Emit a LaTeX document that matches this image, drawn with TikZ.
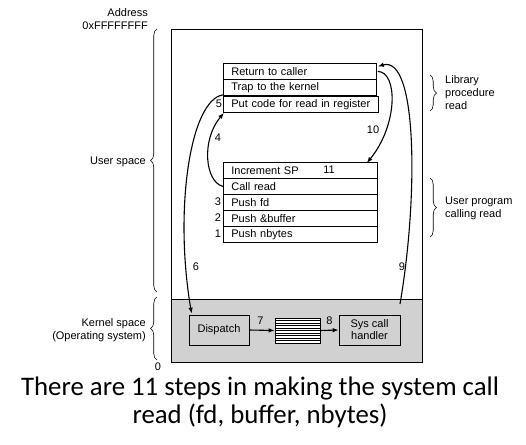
\documentclass[tikz,border=0pt]{standalone}
\usepackage{fontspec}
\setmainfont{Liberation Sans}
\newfontfamily\capfont{Carlito}
\usetikzlibrary{arrows.meta,decorations.pathreplacing}
\begin{document}
\begin{tikzpicture}[x=1pt,y=-1pt,
  every node/.style={font=\fontsize{11}{13}\selectfont},
  rowbox/.style={draw, line width=0.8pt, anchor=north west, minimum height=16pt, inner xsep=8pt, inner ysep=0pt, text width=137pt, align=left},
  kbox/.style={draw, line width=0.8pt, minimum width=60pt, minimum height=30pt, inner sep=0pt, align=center},
  num/.style={inner sep=0pt},
  conn/.style={line width=1.1pt, -{Latex[length=6pt,width=4.5pt]}},
  curly/.style={decorate, decoration={brace, amplitude=6.5pt}, line width=0.6pt},
  side/.style={inner sep=0pt, align=left, anchor=west},
  lside/.style={inner sep=0pt, align=right, anchor=east}
]
\useasboundingbox (0,0) rectangle (526,444);
% kernel area and frame
\fill[black!18] (171,299) rectangle (422,362);
\draw[line width=0.9pt] (171,29) rectangle (422,362);
\draw[line width=0.9pt] (171,299) -- (422,299);

% library procedure rows
\node[rowbox] (ret) at (223,63) {Return to caller};
\node[rowbox] (trap) at (223,79) {Trap to the kernel};
\node[rowbox, text width=139pt] (put) at (223,96) {Put code for read in register};

% user program rows
\node[rowbox, text width=138pt] (incr) at (223,162) {Increment SP};
\node[rowbox, text width=138pt] (call) at (223,178) {Call read};
\node[rowbox, text width=138pt] (pfd) at (223,194) {Push fd};
\node[rowbox, text width=138pt] (pbuf) at (223,210) {Push \&buffer};
\node[rowbox, text width=138pt] (pnb) at (223,226) {Push nbytes};

% step numbers beside rows
\node[num] (n11) at (329,170) {11};
\node[num] (n3) at (218,202) {3};
\node[num] (n2) at (218,218) {2};
\node[num] (n1) at (218,234) {1};
\node[num] (n5) at (219,104) {5};

% kernel boxes
\node[kbox] (dispatch) at (219,330) {Dispatch};
\node[draw, line width=0.8pt, fill=white, minimum width=45pt, minimum height=25pt, inner sep=0pt] (queue) at (297.5,330.5) {};
\foreach \yy in {320.5,323,...,341} \draw[line width=0.9pt] (275,\yy) -- (320,\yy);
\node[kbox, minimum width=61pt] (sch) at (369.5,330) {Sys call\\[-1pt]handler};

% connectors
\draw[conn] (dispatch.east) -- (queue.west);
\node[num] (n7) at (260.5,320.5) {7};
\draw[conn] (queue.east) -- (sch.west);
\node[num] (n8) at (329.5,321) {8};

\draw[conn] (call.west) .. controls (205,182) and (201,140) .. ([xshift=1pt]put.south west);
\node[num] (n4) at (218,138) {4};

\draw[conn] ([yshift=1pt]trap.south west) .. controls (190,100) and (174,210) .. ([xshift=3pt,yshift=1pt]dispatch.north west);
\node[num] (n6) at (196,267) {6};

\coordinate (k9) at (400,304);
\draw[conn] (k9) .. controls (418,200) and (418,55) .. ([xshift=1pt,yshift=5pt]ret.east);
\node[num] (n9) at (402,267) {9};

\draw[conn] ([xshift=1pt]ret.east) .. controls (398,72) and (398,125) .. ([xshift=-11pt,yshift=-1pt]incr.north east);
\node[num] (n10) at (373,130) {10};

% braces and side labels
\draw[curly] (157,292) -- (157,29);
\node[lside] (us) at (146,162) {User space};
\draw[curly] (157,360) -- (157,297);
\node[lside] (ks) at (146,330) {Kernel space\\(Operating system)};
\node[num] (zero) at (158,367) {0};
\node[lside] (addr) at (148,19.5) {Address\\0xFFFFFFFF};

\draw[curly] (430,75) -- (430,111);
\node[side] (lib) at (445,93) {Library\\procedure\\read};
\draw[curly] (430,178) -- (430,237);
\node[side] (upc) at (445,208.5) {User program\\calling read};

% caption
\node[font=\capfont\fontsize{26.8}{28}\selectfont, align=center, inner sep=0pt] (cap) at (260,402) {There are 11 steps in making the system call\\read (fd, buffer, nbytes)};
\end{tikzpicture}
\end{document}
